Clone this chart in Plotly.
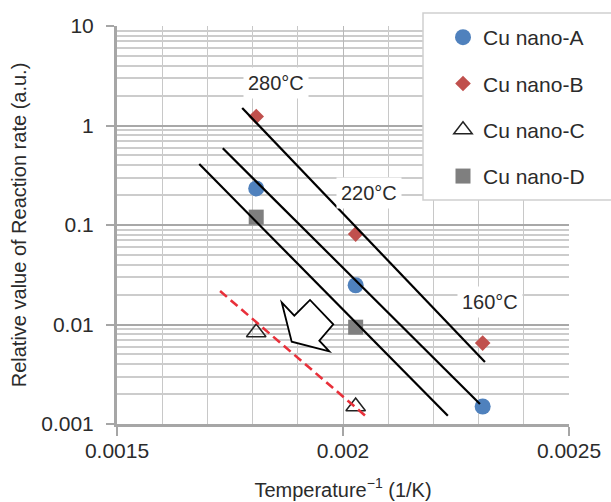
import plotly.graph_objects as go

# ---- data ----
inv_T = [0.001808, 0.002028, 0.002309]          # 1/T for 280, 220, 160 degC
nano_A = [0.233, 0.0248, 0.0015]
nano_B = [1.23, 0.081, 0.0065]
nano_C_x = [0.001808, 0.002028]
nano_C = [0.0083, 0.0015]
nano_D_x = [0.001808, 0.002028]
nano_D = [0.12, 0.0094]

fit_280_x = [0.001777, 0.002314]
fit_280_y = [1.5, 0.0042]
fit_mid_x = [0.001734, 0.002303]
fit_mid_y = [0.59, 0.00159]
fit_low_x = [0.001682, 0.002232]
fit_low_y = [0.41, 0.00121]
fit_C_x = [0.001728, 0.002056]
fit_C_y = [0.0217, 0.00114]

x_tickvals = [0.0015, 0.002, 0.0025]
x_ticktext = ["0.0015", "0.002", "0.0025"]
y_tickvals = [0.001, 0.01, 0.1, 1, 10]
y_ticktext = ["0.001", "0.01", "0.1", "1", "10"]
y_minor = [m * 10 ** e for e in range(-3, 1) for m in range(2, 10)]

FONT = "Liberation Sans, Arial, sans-serif"
FS = 21
TXT = "#2b2b2b"

W, H = 611, 502
L, R, T, B = 117, 42, 26, 78
PW, PH = W - L - R, H - T - B


def px2paper(px, py):
    return (px - L) / PW, (H - B - py) / PH


fig = go.Figure()

fig.add_trace(go.Scatter(x=inv_T, y=nano_A, mode="markers", name="Cu nano-A",
                         legendgroup="A",
                         marker=dict(symbol="circle", size=16, color="#4f81bd")))
fig.add_trace(go.Scatter(x=inv_T, y=nano_B, mode="markers", name="Cu nano-B",
                         legendgroup="B",
                         marker=dict(symbol="diamond", size=12, color="#c0504d")))
fig.add_trace(go.Scatter(x=nano_C_x, y=nano_C, mode="markers", name="Cu nano-C",
                         legendgroup="C",
                         marker=dict(symbol="triangle-up-open", size=17, color="#222222",
                                     line=dict(width=1.5, color="#222222"))))
fig.add_trace(go.Scatter(x=nano_D_x, y=nano_D, mode="markers", name="Cu nano-D",
                         legendgroup="D",
                         marker=dict(symbol="square", size=15, color="#7f7f7f")))

for fx, fy in [(fit_280_x, fit_280_y), (fit_mid_x, fit_mid_y), (fit_low_x, fit_low_y)]:
    fig.add_trace(go.Scatter(x=fx, y=fy, mode="lines", showlegend=False,
                             line=dict(color="black", width=2.2), hoverinfo="skip"))
fig.add_trace(go.Scatter(x=fit_C_x, y=fit_C_y, mode="lines", showlegend=False,
                         line=dict(color="#e8303a", width=2.6, dash="9px,5px"),
                         hoverinfo="skip"))

# legend background box (extends beyond the figure on the right)
lx0, ly0 = px2paper(423, 200)
lx1, ly1 = px2paper(620, 13)
shapes = [dict(type="rect", xref="paper", yref="paper", x0=lx0, x1=lx1, y0=ly0, y1=ly1,
               fillcolor="white", line=dict(color="#cfcfcf", width=1.5), layer="above")]

# block arrow
arrow_px = [(281.7, 302.3), (294.3, 315.7), (310, 300), (333.3, 324.3),
            (319.3, 340.7), (329.3, 351.3), (291.7, 341.7)]
pts = [px2paper(*p) for p in arrow_px]
path = "M " + " L ".join(f"{a:.4f},{b:.4f}" for a, b in pts) + " Z"
shapes.append(dict(type="path", xref="paper", yref="paper", path=path,
                   fillcolor="white", line=dict(color="black", width=1.8), layer="above"))

annos = []
for label, ax_, ay_ in [("280°C", 0.001852, 0.427), ("220°C", 0.002058, -0.678),
                        ("160°C", 0.002325, -1.774)]:
    annos.append(dict(x=ax_, y=ay_, xref="x", yref="y", text=label, showarrow=False,
                      bgcolor="white", borderpad=4,
                      font=dict(family=FONT, size=20, color=TXT)))

fig.update_layout(
    width=W, height=H,
    margin=dict(l=L, r=R, t=T, b=B, pad=0),
    paper_bgcolor="white", plot_bgcolor="white",
    font=dict(family=FONT, size=FS, color=TXT),
    shapes=shapes, annotations=annos,
    legend=dict(x=px2paper(443, 0)[0], xanchor="left", y=px2paper(0, 17)[1], yanchor="top",
                bgcolor="rgba(0,0,0,0)", borderwidth=0, tracegroupgap=16,
                font=dict(family=FONT, size=FS, color=TXT)),
    showlegend=True,
)

fig.update_xaxes(
    range=[0.0015, 0.0025], tickmode="array", tickvals=x_tickvals, ticktext=x_ticktext,
    showline=True, linecolor="#a6a6a6", linewidth=3,
    ticks="outside", ticklen=9, tickwidth=2, tickcolor="#a6a6a6",
    showgrid=True, gridcolor="#b8b8b8", gridwidth=1.2,
    minor=dict(dtick=0.0001, tick0=0.0015, showgrid=True, gridcolor="#c8c8c8",
               gridwidth=1.2, ticks=""),
    zeroline=False, automargin=False,
    title=dict(text="Temperature<sup>−1</sup> (1/K)", font=dict(size=20), standoff=22),
    ticklabelstandoff=-3,
)
fig.update_yaxes(
    type="log", range=[-3, 1], tickmode="array", tickvals=y_tickvals, ticktext=y_ticktext,
    showline=True, linecolor="#a6a6a6", linewidth=3,
    ticks="outside", ticklen=8, tickwidth=2, tickcolor="#a6a6a6",
    showgrid=True, gridcolor="#a8a8a8", gridwidth=2.2,
    minor=dict(tickmode="array", tickvals=y_minor, showgrid=True, gridcolor="#cccccc",
               gridwidth=1.6, ticks=""),
    zeroline=False, automargin=False,
    title=dict(text="Relative value of Reaction rate (a.u.)", font=dict(size=20), standoff=10),
    ticklabelstandoff=8,
)

fig.write_html("out.html")
